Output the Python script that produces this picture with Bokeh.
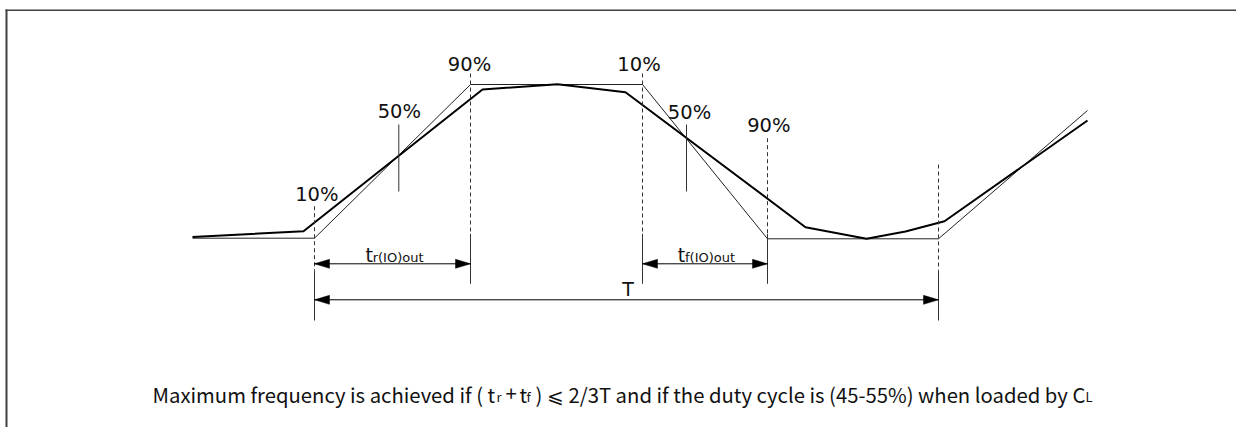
from bokeh.plotting import figure
from bokeh.models import Range1d
from bokeh.core.properties import value
from bokeh.embed import file_html
from bokeh.resources import INLINE

# ---- data (pixel-space units of the diagram, y grows downward) ----
real_x = [192, 303, 482, 557, 625, 805, 866, 905, 944, 1087]
real_y = [236.5, 230.7, 89, 83.7, 91.7, 226.7, 238.3, 231, 220.7, 120]
ideal_x = [192, 314, 470, 642, 767, 938, 1087]
ideal_y = [237.7, 237.7, 84, 84, 238.3, 238.3, 110]

guide_x = [314, 470, 642, 767, 938]
dash_top = [205.7, 73, 73, 137.7, 164]
dash_bot = [270, 233.3, 233.3, 233.3, 270]
solid_bot = [320, 283.3, 283.3, 283.3, 320]

mid_x = [398.3, 686]
mid_top = [124, 124]
mid_bot = [191, 191]

dim_x0 = [314, 642, 314]
dim_x1 = [470, 767, 938]
dim_y = [263.3, 263.3, 299.3]

pct_text = ["10%", "50%", "90%", "10%", "50%", "90%"]
pct_x = [316.3, 398.8, 469, 638.5, 689, 768.3]
pct_y = [194, 111, 64, 64, 111.7, 125]

lbl_main = ["t", "t", "T"]
lbl_main_x = [365, 677.3, 621.7]
lbl_main_y = [254.3, 254.3, 288]
lbl_sub = ["r(IO)out", "f(IO)out"]
lbl_sub_x = [372.2, 684.5]
lbl_sub_y = [257, 257]

cap_words = ["Maximum frequency is achieved if ( t", "+", "t",
             ") \u2a7d 2/3T and if the duty cycle is (45-55%) when loaded by C"]
cap_words_x = [152, 505, 519, 535]
cap_sub = ["r", "f", "L"]
cap_sub_x = [496, 526, 1085]
cap_y = 393

W, H = 1236, 427

p = figure(width=W, height=H, x_range=Range1d(0, W), y_range=Range1d(H, 0),
           output_backend="svg", toolbar_location=None, min_border=0,
           x_axis_type=None, y_axis_type=None)
p.grid.visible = False
p.outline_line_color = None
p.background_fill_color = "white"
p.border_fill_color = "white"

# frame (top and left edges; the rest lies outside the window)
p.segment(x0=[5, 6], y0=[9.7, 9], x1=[W, 6], y1=[9.7, H],
          line_color="#404040", line_width=[1.5, 2])

# waveforms
p.line(ideal_x, ideal_y, line_color="#222222", line_width=1)
p.line(real_x, real_y, line_color="black", line_width=2)

# guides
p.segment(x0=guide_x, y0=dash_top, x1=guide_x, y1=dash_bot, line_color="#333333",
          line_width=1, line_dash="4 3")
p.segment(x0=guide_x, y0=dash_bot, x1=guide_x, y1=solid_bot, line_color="#333333", line_width=1)
p.segment(x0=mid_x, y0=mid_top, x1=mid_x, y1=mid_bot, line_color="#333333", line_width=1)

# dimension arrows
p.segment(x0=dim_x0, y0=dim_y, x1=dim_x1, y1=dim_y, line_color="black", line_width=1)
L, Hw = 15, 4.5
xs, ys = [], []
for a, b, y in zip(dim_x0, dim_x1, dim_y):
    xs.append([a, a + L, a + L]); ys.append([y, y - Hw, y + Hw])
    xs.append([b, b - L, b - L]); ys.append([y, y - Hw, y + Hw])
p.patches(xs, ys, fill_color="black", line_color="black", line_width=0.5)

# labels
dv = value("DejaVu Sans")
p.text(x=pct_x, y=pct_y, text=pct_text, text_font=dv, text_font_size="19.5px",
       text_align="center", text_baseline="alphabetic", text_color="#111111")
p.text(x=lbl_main_x, y=lbl_main_y, text=lbl_main, text_font=dv, text_font_size="19px",
       text_align="left", text_baseline="alphabetic", text_color="#111111")
p.text(x=lbl_sub_x, y=lbl_sub_y, text=lbl_sub, text_font=dv, text_font_size="13px",
       text_align="left", text_baseline="alphabetic", text_color="#111111")

cf = value("Noto Sans CJK SC")
p.text(x=cap_words_x, y=[cap_y] * len(cap_words_x), text=cap_words, text_font=cf,
       text_font_size="20.3px", text_align="left", text_baseline="alphabetic", text_color="#111111")
p.text(x=cap_sub_x, y=[cap_y + 3] * len(cap_sub_x), text=cap_sub, text_font=cf, text_font_size="13px",
       text_align="left", text_baseline="alphabetic", text_color="#111111")

open("out.html", "w").write(file_html(p, INLINE))
